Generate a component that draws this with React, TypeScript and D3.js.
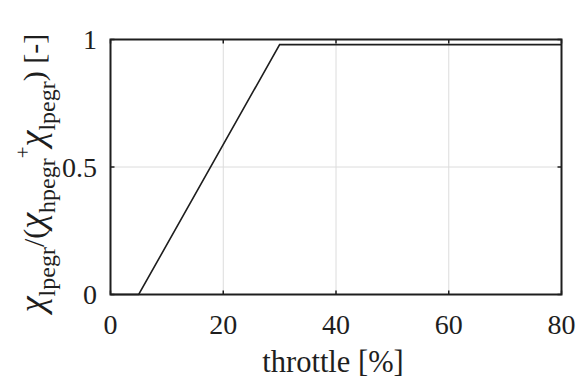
import React from "react";
import * as d3 from "d3";

const throttle = [0, 5, 30, 80];
const ratio = [0, 0, 0.98, 0.98];
const xTicks = [0, 20, 40, 60, 80];
const yTicks = [0, 0.5, 1];
const yTickLabels = ["0", "0.5", "1"];

const W = 578, H = 380;
const M = { left: 110.5, right: 561.5, top: 39.5, bottom: 294.5 };
const FONT = "'Liberation Serif', 'Times New Roman', serif";
const INK = "#1e1e1e";

export default function App() {
  const x = d3.scaleLinear().domain([0, 80]).range([M.left, M.right]);
  const y = d3.scaleLinear().domain([0, 1]).range([M.bottom, M.top]);
  const line = d3.line<number>().x((d, i) => x(throttle[i])).y((d) => y(d));
  const CHI = 36, MAIN = 30, SUB = 24;
  return (
    <svg width={W} height={H} style={{ position: "absolute", left: 0, top: 0, background: "#fff" }}>
      <rect x={0} y={0} width={W} height={H} fill="#fff" />
      {xTicks.slice(1, -1).map((t) => (
        <line key={"gx" + t} x1={x(t)} x2={x(t)} y1={M.top} y2={M.bottom} stroke="#dcdcdc" strokeWidth={1} />
      ))}
      {yTicks.slice(1, -1).map((t) => (
        <line key={"gy" + t} x1={M.left} x2={M.right} y1={y(t)} y2={y(t)} stroke="#dcdcdc" strokeWidth={1} />
      ))}
      {xTicks.map((t) => (
        <g key={"tx" + t}>
          <line x1={x(t)} x2={x(t)} y1={M.bottom} y2={M.bottom - 4} stroke={INK} strokeWidth={1.5} />
          <line x1={x(t)} x2={x(t)} y1={M.top} y2={M.top + 4} stroke={INK} strokeWidth={1.5} />
          <text x={x(t)} y={334} textAnchor="middle" fontFamily={FONT} fontSize={28} fill={INK}>{t}</text>
        </g>
      ))}
      {yTicks.map((t, i) => (
        <g key={"ty" + t}>
          <line x1={M.left} x2={M.left + 4} y1={y(t)} y2={y(t)} stroke={INK} strokeWidth={1.5} />
          <line x1={M.right} x2={M.right - 4} y1={y(t)} y2={y(t)} stroke={INK} strokeWidth={1.5} />
          <text x={97} y={y(t) + 9.5} textAnchor="end" fontFamily={FONT} fontSize={28} fill={INK}>{yTickLabels[i]}</text>
        </g>
      ))}
      <path d={line(ratio) || ""} fill="none" stroke={INK} strokeWidth={1.6} />
      <rect x={M.left} y={M.top} width={M.right - M.left} height={M.bottom - M.top} fill="none" stroke={INK} strokeWidth={2} />
      <text x={(M.left + M.right) / 2 - 3} y={372} textAnchor="middle" fontFamily={FONT} fontSize={30.5} fill={INK}>throttle [%]</text>
      <text transform={`translate(44,${(M.top + M.bottom) / 2 + 6}) rotate(-90)`} textAnchor="middle" fontFamily={FONT} fontSize={MAIN} fill={INK}>
        <tspan fontSize={CHI} fontStyle="italic">χ</tspan>
        <tspan fontSize={SUB} dy={11}>lpegr</tspan>
        <tspan dy={-11}>/(</tspan>
        <tspan fontSize={CHI} fontStyle="italic">χ</tspan>
        <tspan fontSize={SUB} dy={11}>hpegr</tspan>
        <tspan fontSize={21} dy={-25}>+</tspan>
        <tspan fontSize={CHI} fontStyle="italic" dy={14}>χ</tspan>
        <tspan fontSize={SUB} dy={11}>lpegr</tspan>
        <tspan dy={-11}>) [-]</tspan>
      </text>
    </svg>
  );
}
